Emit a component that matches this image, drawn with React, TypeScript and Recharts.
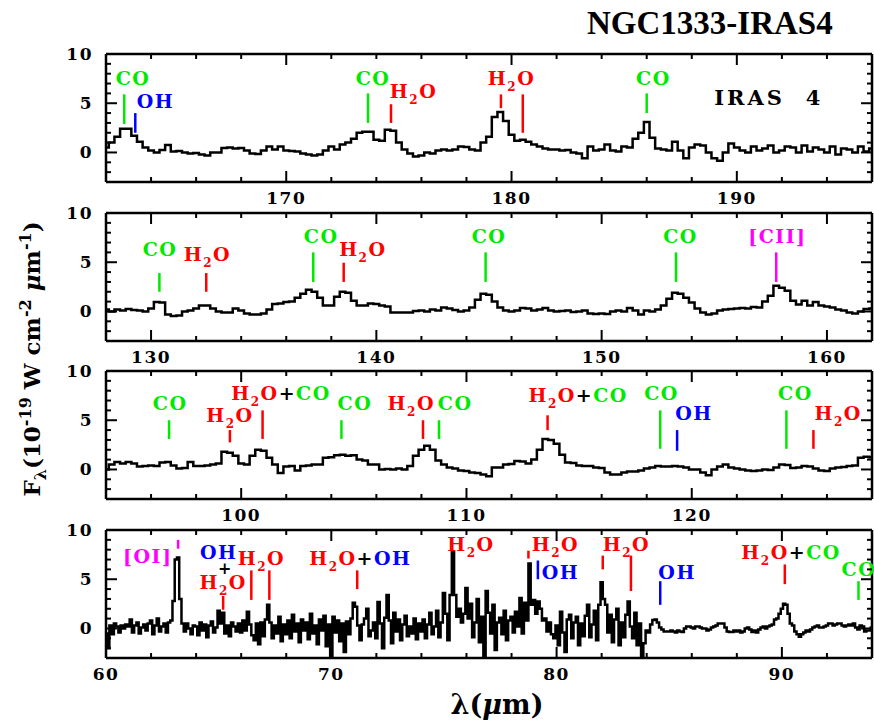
import React from 'react';
import { LineChart, Line, XAxis, YAxis, ReferenceLine, ReferenceDot } from 'recharts';

const FONT = '"DejaVu Serif", serif';
const GREEN = '#00ea00';
const RED = '#ff0000';
const BLUE = '#0000ff';
const MAGENTA = '#ff00ff';
const BLACK = '#000000';

// wavelength ranges (micron) of the four strips, top to bottom
const range1 = [162, 196];
const range2 = [128, 162];
const range3 = [94, 128];
const range4 = [60, 94];
const step1 = 0.25;
const step4 = 0.1;

const ticks1 = [162, 164, 166, 168, 170, 172, 174, 176, 178, 180, 182, 184, 186, 188, 190, 192, 194, 196];
const ticks2 = [128, 130, 132, 134, 136, 138, 140, 142, 144, 146, 148, 150, 152, 154, 156, 158, 160, 162];
const ticks3 = [94, 96, 98, 100, 102, 104, 106, 108, 110, 112, 114, 116, 118, 120, 122, 124, 126, 128];
const ticks4 = [60, 62, 64, 66, 68, 70, 72, 74, 76, 78, 80, 82, 84, 86, 88, 90, 92, 94];
const fluxTicks = [-3, -2, -1, 0, 1, 2, 3, 4, 5, 6, 7, 8, 9, 10];

// F_lambda (1e-19 W cm-2 um-1), 162-196 um every 0.25 um
const flux1 = [
  0.5, 1.0, 1.6, 2.4, 2.4, 1.7, 1.1, 0.5, 0.2, 0.0,
  0.25, 0.75, 0.1, 0.15, 0.0, -0.1, -0.05, -0.2, -0.3, 0.0,
  0.0, 0.45, 0.5, 0.4, 0.45, 0.2, -0.1, -0.15, 0.2, 0.6,
  0.3, 0.6, 0.2, 0.15, 0.1, -0.1, -0.2, -0.3, -0.2, 0.2,
  0.6, 0.3, 0.8, 1.0, 1.4, 2.0, 2.1, 2.1, 1.3, 1.2,
  2.3, 2.2, 1.0, 0.3, -0.1, -0.4, -0.3, 0.0, -0.1, 0.2,
  0.3, 0.2, 0.3, 0.6, 0.55, 0.3, 0.2, 1.0, 1.6, 3.6,
  4.1, 3.2, 1.8, 1.2, 1.3, 1.1, 0.8, 0.6, 0.4, 0.3,
  0.3, 0.2, 0.25, 0.0, -0.1, -0.6, 0.6, 0.2, 0.3, 0.8,
  0.2, 0.1, 0.6, 0.5, 1.4, 2.0, 3.1, 1.5, 0.4, 0.3,
  0.2, 1.1, 0.2, -0.6, 0.5, 0.8, 0.7, 0.0, -0.6, -0.85,
  0.0, 0.9, 0.5, 0.2, 0.0, 0.6, 0.2, 0.4, 0.7, 0.0,
  0.2, 0.6, 0.5, 0.0, 0.7, 0.1, 0.5, 0.3, 0.0, 0.6,
  -0.2, 0.4, 0.3, 0.0, 0.6, 0.1, 0.4,
];

// 128-162 um every 0.25 um
const flux2 = [
  0.2, 0.0, 0.2, 0.1, 0.25, 0.15, 0.1, 0.0, 0.3, 0.95,
  0.9, -0.3, -0.45, -0.4, 0.0, 0.1, 0.3, 0.6, 0.6, 0.3,
  0.0, -0.1, -0.1, 0.3, 0.1, -0.2, -0.3, -0.3, -0.2, 0.2,
  0.75, 0.8, 0.95, 1.0, 1.4, 1.8, 2.2, 2.0, 1.4, 0.6,
  0.6, 1.5, 2.0, 1.9, 1.1, 0.6, 0.6, 0.8, 0.75, 0.6,
  0.5, -0.1, -0.1, -0.1, -0.1, 0.05, 0.1, 0.0, 0.2, 0.1,
  0.4, 0.3, 0.15, 0.0, 0.1, 0.4, 1.2, 1.8, 1.7, 1.0,
  0.4, 0.1, 0.0, 0.1, 0.35, 0.3, 0.1, 0.2, 0.35, 0.1,
  0.0, 0.05, 0.1, -0.05, 0.0, 0.1, -0.2, -0.25, -0.2, -0.25,
  0.0, 0.1, 0.0, 0.35, 0.1, -0.3, 0.1, 0.0, 0.2, 0.6,
  1.3, 1.9, 1.8, 1.4, 0.9, 0.3, -0.1, -0.3, -0.2, 0.1,
  0.2, 0.25, 0.3, 0.35, 0.3, 0.45, 0.4, 1.0, 1.6, 2.6,
  2.4, 2.1, 1.1, 0.7, 1.1, 0.6, 0.95, 0.6, 0.5, 0.4,
  0.2, 0.1, -0.1, -0.2, 0.0, 0.25, 0.3,
];

// 94-128 um every 0.25 um
const flux3 = [
  0.0, 0.5, 0.75, 0.6, 0.75, 0.6, 0.3, 0.35, 0.4, 0.35,
  0.7, 0.75, 0.4, 0.1, 0.15, 0.75, 0.35, 0.35, 0.4, 0.5,
  0.6, 1.8, 1.7, 1.4, 0.6, 0.5, 1.4, 2.0, 1.9, 1.2,
  0.5, -0.35, 0.3, 0.35, -0.1, 0.35, 0.4, 0.5, 0.5, 1.2,
  1.25, 1.45, 1.5, 1.4, 1.45, 1.0, 0.9, 0.5, 0.5, 0.0,
  0.05, 0.0, 0.1, 0.0, 0.35, 1.4, 2.0, 2.4, 2.0, 0.9,
  0.5, 0.2, 0.1, -0.1, -0.15, -0.3, -0.35, -0.5, -0.7, 0.2,
  0.2, 0.5, 0.55, 0.85, 0.8, 0.6, 1.0, 2.0, 3.1, 3.0,
  2.6, 1.5, 0.7, 0.65, 0.4, 0.35, 0.35, 0.2, 0.15, -0.3,
  -0.5, -0.5, -0.3, -0.2, -0.2, -0.1, 0.1, 0.2, 0.35, 0.3,
  0.3, 0.35, 0.3, 0.2, 0.0, 0.0, -0.3, -0.6, 0.0, 0.3,
  0.5, 0.2, 0.1, 0.0, -0.1, -0.15, -0.1, 0.0, -0.05, 0.2,
  0.5, 0.45, 0.15, 0.2, 0.35, 0.3, 0.1, -0.1, -0.15, 0.1,
  0.2, 0.25, 0.35, 0.4, 1.2, 1.3, 1.25,
];

// 60-94 um every 0.1 um (one row per micron)
const flux4 = [
  -0.5, -2.0, 0.3, -0.6, 0.5, 0.2, -0.4, 0.3, 0.0, 0.4,
  0.2, 0.9, -0.4, 0.3, 0.6, -0.5, 0.1, 0.4, -0.2, 0.5,
  0.8, -0.6, 0.3, 1.0, -0.3, 0.2, 0.5, -0.4, 0.6, 0.8,
  2.8, 7.0, 7.2, 3.0, 0.5, -0.3, 0.5, 0.0, -0.6, 0.3,
  0.2, -0.7, 0.6, -0.2, 0.4, -0.9, 0.3, 0.7, -0.4, 0.1,
  1.8, 0.5, 1.6, -0.5, 0.3, -0.8, 0.6, 0.2, -0.3, 0.5,
  -0.4, 0.8, -0.2, 1.7, 0.4, -0.7, -1.2, 0.5, -1.6, 0.6,
  -0.8, 0.9, 2.4, 0.6, -1.0, 0.3, -0.5, 1.2, -1.3, 0.4,
  -0.6, 0.8, -1.0, 1.4, -0.3, 0.5, -1.4, 0.9, -0.2, 0.6,
  -1.1, 1.5, -0.5, 0.3, -1.6, 0.9, -0.2, 1.3, -1.8, 0.4,
  -3.0, 1.2, -0.4, 0.8, -1.3, 0.5, -2.4, 0.7, -0.6, 1.0,
  2.6, 2.2, 0.3, -1.2, 0.4, 1.0, 2.0, -0.8, -0.2, 0.6,
  -1.0, 2.7, 0.5, -2.0, 1.1, 3.4, 0.8, -1.5, 1.6, -0.3,
  0.9, -1.2, 0.4, 1.3, -0.8, 0.2, -0.5, 1.0, -1.1, 0.5,
  -0.3, 0.9, -1.0, 0.4, 1.6, -0.6, 0.2, 1.8, -0.9, 0.6,
  3.6, 1.5, -1.2, 3.4, 7.8, 3.4, 1.2, 2.0, 0.6, 1.5,
  4.1, 1.0, 2.5, -0.9, 0.6, 3.0, -1.4, 1.2, -3.1, 3.8,
  1.6, -0.5, 2.4, -2.2, 0.6, 1.1, -0.6, 1.8, -1.2, 0.8,
  1.2, -0.4, 1.7, 0.2, 3.1, -0.5, 2.6, 0.8, 6.6, 2.4,
  2.9, 1.5, 2.75, 2.0, 0.8, 1.0, -0.3, 0.6, -0.6, -1.0,
  0.3, -1.7, 1.7, -0.4, -2.4, 0.9, 1.4, -1.0, 0.6, 1.2,
  -1.7, 0.5, -0.8, 1.3, 2.4, -0.9, 0.4, 1.8, -1.2, 2.4,
  4.7, 3.0, 2.4, -0.4, 1.4, -1.4, 0.9, 2.0, -1.7, 0.6,
  -0.9, 1.4, 2.75, 0.2, -1.0, 1.6, -1.7, 0.5, -2.9, -1.5,
  -0.2, -0.4, 0.4, 0.85, 0.9, 0.6, 0.1, -0.1, -0.3, -0.3,
  -0.3, -0.2, -0.3, -0.4, -0.2, -0.3, -0.35, 0.0, 0.2, 0.2,
  0.1, 0.0, 0.2, 0.2, 0.1, 0.0, 0.0, -0.2, -0.1, 0.1,
  0.2, 0.3, 0.5, 0.5, 0.5, 0.1, -0.3, -0.35, -0.35, -0.2,
  -0.3, -0.2, -0.4, -0.3, 0.0, 0.1, -0.1, -0.35, -0.2, -0.4,
  -0.1, 0.1, 0.2, 0.0, 0.2, 0.3, 0.4, 0.9, 1.0, 1.5,
  2.0, 2.5, 2.4, 1.5, 0.5, 0.3, -0.3, -0.6, -0.85, -0.6,
  -0.4, -0.2, -0.3, -0.1, 0.1, 0.2, 0.3, 0.1, 0.1, 0.2,
  0.3, 0.5, 0.5, 0.3, 0.4, 0.5, 0.5, 0.3, 0.2, 0.3,
  0.4, 0.3, 0.5, 0.1, -0.1, 0.3, 0.2, -0.3, -0.2, -0.2,
  0.1,
];

// line identifications: marker wavelength and marker extent (flux units)
type Mark = { w: number; lo: number; hi: number; c: string };
type Part = { t: string; c: string; sub?: boolean };
type Tag = { w: number; f: number; parts: Part[]; anchor?: 'start' | 'middle'; size?: number };

const co = (): Part[] => [{ t: 'CO', c: GREEN }];
const oh = (): Part[] => [{ t: 'OH', c: BLUE }];
const h2o = (): Part[] => [{ t: 'H', c: RED }, { t: '2', c: RED, sub: true }, { t: 'O', c: RED }];
const plus = (p: Part[]): Part[] => [...h2o(), { t: '+', c: BLACK }, ...p];

const marks1: Mark[] = [
  { w: 162.81, lo: 2.9, hi: 5.9, c: GREEN },
  { w: 163.3, lo: 2.0, hi: 4.0, c: BLUE },
  { w: 173.63, lo: 3.0, hi: 6.0, c: GREEN },
  { w: 174.65, lo: 3.0, hi: 4.9, c: RED },
  { w: 179.53, lo: 4.5, hi: 5.9, c: RED },
  { w: 180.5, lo: 2.0, hi: 5.9, c: RED },
  { w: 186.0, lo: 4.0, hi: 6.0, c: GREEN },
];
const tags1: Tag[] = [
  { w: 163.2, f: 6.9, parts: co() },
  { w: 164.2, f: 4.5, parts: oh() },
  { w: 173.85, f: 6.9, parts: co() },
  { w: 175.65, f: 5.5, parts: h2o() },
  { w: 180.0, f: 6.9, parts: h2o() },
  { w: 186.3, f: 6.9, parts: co() },
  { w: 189.0, f: 4.8, parts: [{ t: 'IRAS\u00a0\u00a04', c: BLACK }], anchor: 'start', size: 21 },
];

const marks2: Mark[] = [
  { w: 130.37, lo: 2.0, hi: 3.9, c: GREEN },
  { w: 132.45, lo: 2.0, hi: 3.9, c: RED },
  { w: 137.2, lo: 3.0, hi: 6.0, c: GREEN },
  { w: 138.55, lo: 3.0, hi: 4.95, c: RED },
  { w: 144.85, lo: 3.0, hi: 6.0, c: GREEN },
  { w: 153.3, lo: 3.0, hi: 6.0, c: GREEN },
  { w: 157.75, lo: 3.0, hi: 6.0, c: MAGENTA },
];
const tags2: Tag[] = [
  { w: 130.4, f: 5.65, parts: co() },
  { w: 132.5, f: 5.1, parts: h2o() },
  { w: 137.55, f: 7.0, parts: co() },
  { w: 139.4, f: 5.65, parts: h2o() },
  { w: 145.0, f: 7.0, parts: co() },
  { w: 153.5, f: 7.0, parts: co() },
  { w: 157.8, f: 7.0, parts: [{ t: '[CII]', c: MAGENTA }] },
];

const marks3: Mark[] = [
  { w: 96.8, lo: 3.1, hi: 5.0, c: GREEN },
  { w: 99.5, lo: 2.75, hi: 4.0, c: RED },
  { w: 100.95, lo: 3.1, hi: 6.0, c: RED },
  { w: 104.45, lo: 3.1, hi: 5.0, c: GREEN },
  { w: 108.07, lo: 3.1, hi: 5.0, c: RED },
  { w: 108.78, lo: 3.1, hi: 5.0, c: GREEN },
  { w: 113.6, lo: 4.0, hi: 5.5, c: RED },
  { w: 118.6, lo: 2.1, hi: 6.0, c: GREEN },
  { w: 119.35, lo: 1.9, hi: 4.0, c: BLUE },
  { w: 124.2, lo: 2.1, hi: 6.0, c: GREEN },
  { w: 125.4, lo: 2.1, hi: 4.0, c: RED },
];
const tags3: Tag[] = [
  { w: 96.85, f: 6.0, parts: co() },
  { w: 99.5, f: 4.85, parts: h2o() },
  { w: 99.56, f: 7.05, parts: plus(co()), anchor: 'start' },
  { w: 105.05, f: 6.0, parts: co() },
  { w: 107.55, f: 6.0, parts: h2o() },
  { w: 109.5, f: 6.0, parts: co() },
  { w: 112.75, f: 6.9, parts: plus(co()), anchor: 'start' },
  { w: 118.66, f: 7.1, parts: co() },
  { w: 120.1, f: 5.0, parts: oh() },
  { w: 124.6, f: 7.1, parts: co() },
  { w: 126.5, f: 5.0, parts: h2o() },
];

const marks4: Mark[] = [
  { w: 63.2, lo: 8.1, hi: 9.0, c: MAGENTA },
  { w: 65.2, lo: 1.9, hi: 3.3, c: RED },
  { w: 66.45, lo: 2.9, hi: 5.9, c: RED },
  { w: 67.25, lo: 2.9, hi: 5.9, c: RED },
  { w: 71.15, lo: 4.0, hi: 5.9, c: RED },
  { w: 78.75, lo: 7.1, hi: 7.9, c: RED },
  { w: 79.17, lo: 5.0, hi: 6.9, c: BLUE },
  { w: 82.05, lo: 6.0, hi: 7.4, c: RED },
  { w: 83.3, lo: 3.8, hi: 7.4, c: RED },
  { w: 84.6, lo: 2.4, hi: 4.8, c: BLUE },
  { w: 90.13, lo: 4.5, hi: 6.5, c: RED },
  { w: 93.4, lo: 2.9, hi: 4.8, c: GREEN },
];
const tags4: Tag[] = [
  { w: 61.85, f: 6.6, parts: [{ t: '[OI]', c: MAGENTA }] },
  { w: 65.0, f: 7.1, parts: oh() },
  { w: 65.3, f: 5.5, parts: [{ t: '+', c: BLACK }], size: 16 },
  { w: 65.2, f: 4.0, parts: h2o() },
  { w: 66.9, f: 6.4, parts: h2o() },
  { w: 69.02, f: 6.4, parts: plus(oh()), anchor: 'start' },
  { w: 76.2, f: 7.9, parts: h2o() },
  { w: 79.95, f: 7.9, parts: h2o() },
  { w: 79.34, f: 5.0, parts: oh(), anchor: 'start' },
  { w: 83.1, f: 7.9, parts: h2o() },
  { w: 85.35, f: 5.0, parts: oh() },
  { w: 88.2, f: 7.1, parts: plus(co()), anchor: 'start' },
  { w: 92.65, f: 5.3, parts: co(), anchor: 'start' },
];

const TagText = ({ x, y, parts, anchor, size }: { x: number; y: number; parts: Part[]; anchor: string; size: number }) => (
  <text x={x} y={y} textAnchor={anchor} fontFamily={FONT} fontWeight="bold" fontSize={size}
    letterSpacing={size > 19 ? 3 : 1.5}>
    {parts.map((p, i) => {
      const prevSub = i > 0 && parts[i - 1].sub;
      const dy = p.sub ? 6 : prevSub ? -6 : 0;
      return (
        <tspan key={i} dy={dy} fill={p.c} fontSize={p.sub ? 12 : size}>
          {p.t}
        </tspan>
      );
    })}
  </text>
);

const tickLabel = { fontFamily: FONT, fontWeight: 'bold' as const, fontSize: 17, letterSpacing: 1.5, fill: BLACK };

const BottomTick = ({ x, y, payload }: any) => {
  const v = payload.value;
  const major = Math.round(v) % 10 === 0;
  return (
    <g>
      <line x1={x} x2={x} y1={y} y2={y - (major ? 11 : 5)} stroke={BLACK} strokeWidth={2} />
      {major && (
        <text x={x} y={y + 22} textAnchor="middle" {...tickLabel}>
          {v}
        </text>
      )}
    </g>
  );
};

const TopTick = ({ x, y, payload }: any) => {
  const major = Math.round(payload.value) % 10 === 0;
  return <line x1={x} x2={x} y1={y} y2={y + (major ? 11 : 5)} stroke={BLACK} strokeWidth={2} />;
};

const LeftTick = ({ x, y, payload }: any) => {
  const v = payload.value;
  const major = v % 5 === 0;
  return (
    <g>
      <line x1={x} x2={x + (major ? 11 : 5)} y1={y} y2={y} stroke={BLACK} strokeWidth={2} />
      {major && v >= 0 && (
        <text x={x - 13} y={y + 6} textAnchor="end" {...tickLabel}>
          {v}
        </text>
      )}
    </g>
  );
};

const RightTick = ({ x, y, payload }: any) => {
  const major = payload.value % 5 === 0;
  return <line x1={x} x2={x - (major ? 11 : 5)} y1={y} y2={y} stroke={BLACK} strokeWidth={2} />;
};

const frame = { stroke: BLACK, strokeWidth: 2.5 };

type PanelProps = {
  top: number;
  range: number[];
  step: number;
  flux: number[];
  xTicks: number[];
  marks: Mark[];
  tags: Tag[];
};

const Panel = ({ top, range, step, flux, xTicks, marks, tags }: PanelProps) => {
  const data = flux.map((f, i) => ({ w: +(range[0] + i * step).toFixed(3), f }));
  return (
    <div style={{ position: 'absolute', left: 0, top: top - 10 }}>
      <LineChart width={874} height={168} data={data} margin={{ top: 9, right: 1, bottom: 29, left: 105 }}>
        <XAxis dataKey="w" type="number" domain={range} allowDataOverflow ticks={xTicks} interval={0}
          height={1} tickSize={0} tickMargin={0} tickLine={false} axisLine={frame} tick={<BottomTick />} />
        <XAxis xAxisId="top" orientation="top" dataKey="w" type="number" domain={range} allowDataOverflow
          ticks={xTicks} interval={0} height={1} tickSize={0} tickMargin={0} tickLine={false} axisLine={frame}
          tick={<TopTick />} />
        <YAxis type="number" domain={[-3, 10]} allowDataOverflow ticks={fluxTicks} interval={0} width={1}
          tickSize={0} tickMargin={0} tickLine={false} axisLine={frame} tick={<LeftTick />} />
        <YAxis yAxisId="right" orientation="right" type="number" domain={[-3, 10]} allowDataOverflow
          ticks={fluxTicks} interval={0} width={1} tickSize={0} tickMargin={0} tickLine={false} axisLine={frame}
          tick={<RightTick />} />
        <Line type="step" dataKey="f" stroke={BLACK} strokeWidth={2.5} dot={false} isAnimationActive={false} />
        {marks.map((m, i) => (
          <ReferenceLine key={`m${i}`} segment={[{ x: m.w, y: m.lo }, { x: m.w, y: m.hi }]}
            stroke={m.c} strokeWidth={2.5} />
        ))}
        {tags.map((t, i) => (
          <ReferenceDot key={`t${i}`} x={t.w} y={t.f} r={0}
            shape={(p: any) => (
              <TagText x={p.cx} y={p.cy} parts={t.parts} anchor={t.anchor || 'middle'} size={t.size || 19} />
            )} />
        ))}
      </LineChart>
    </div>
  );
};

const App = () => (
  <div style={{ position: 'absolute', left: 0, top: 0, width: 874, height: 723, background: '#fff' }}>
    <svg width={874} height={723} style={{ position: 'absolute', left: 0, top: 0 }}>
      <text x={587} y={34} fontFamily='"Liberation Serif", serif' fontWeight="bold" fontSize={33} fill={BLACK}>
        NGC1333-IRAS4
      </text>
      <text x={497} y={714} textAnchor="middle" fontFamily={FONT} fontWeight="bold" fontSize={27} fill={BLACK}>
        λ(<tspan fontStyle="italic">μ</tspan>m)
      </text>
      <text transform="translate(40,359) rotate(-90)" textAnchor="middle" fontFamily={FONT} fontWeight="bold"
        fontSize={23} fill={BLACK}>
        <tspan>F</tspan>
        <tspan dy={6} fontSize={16}>λ</tspan>
        <tspan dy={-6}>(10</tspan>
        <tspan dy={-9} fontSize={16}>-19</tspan>
        <tspan dy={9}> W cm</tspan>
        <tspan dy={-9} fontSize={16}>-2</tspan>
        <tspan dy={9}> </tspan>
        <tspan fontStyle="italic">μ</tspan>
        <tspan>m</tspan>
        <tspan dy={-9} fontSize={16}>-1</tspan>
        <tspan dy={9}>)</tspan>
      </text>
    </svg>
    <Panel top={54} range={range1} step={step1} flux={flux1} xTicks={ticks1} marks={marks1} tags={tags1} />
    <Panel top={212.5} range={range2} step={step1} flux={flux2} xTicks={ticks2} marks={marks2} tags={tags2} />
    <Panel top={371} range={range3} step={step1} flux={flux3} xTicks={ticks3} marks={marks3} tags={tags3} />
    <Panel top={529.5} range={range4} step={step4} flux={flux4} xTicks={ticks4} marks={marks4} tags={tags4} />
  </div>
);

export default App;
